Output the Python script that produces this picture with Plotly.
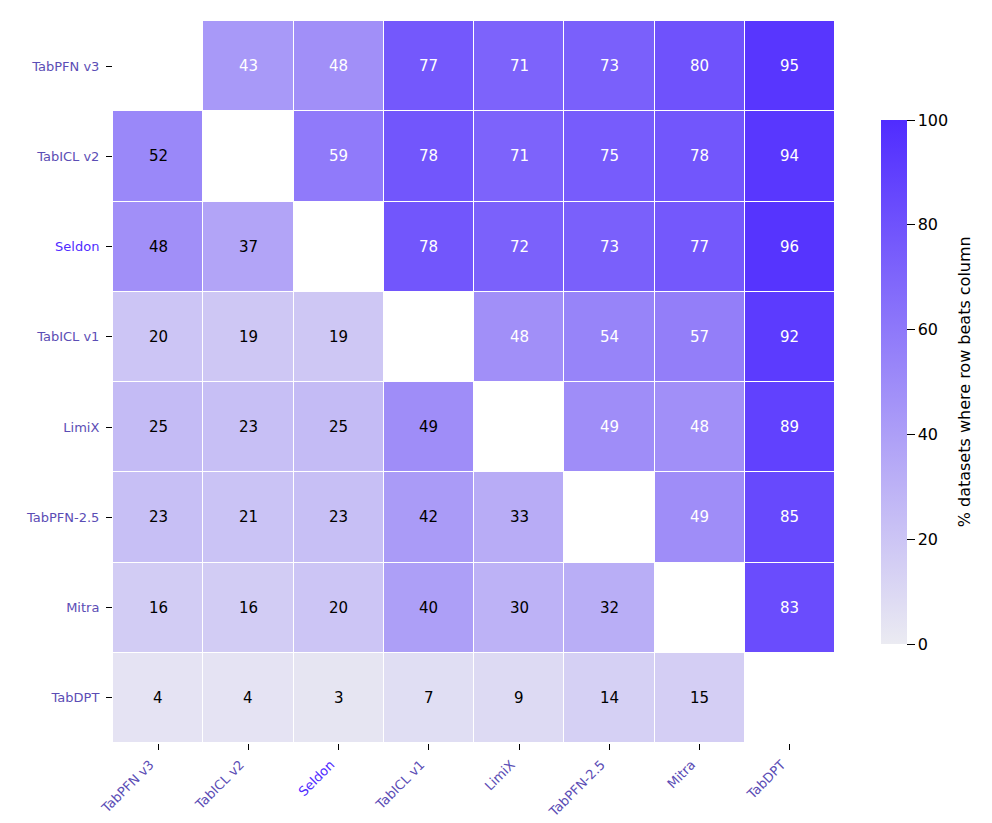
import plotly.graph_objects as go

models = ["TabPFN v3", "TabICL v2", "Seldon", "TabICL v1", "LimiX", "TabPFN-2.5", "Mitra", "TabDPT"]

# % of datasets where the row model beats the column model (diagonal empty)
win_rates = [
    [None, 43, 48, 77, 71, 73, 80, 95],
    [52, None, 59, 78, 71, 75, 78, 94],
    [48, 37, None, 78, 72, 73, 77, 96],
    [20, 19, 19, None, 48, 54, 57, 92],
    [25, 23, 25, 49, None, 49, 48, 89],
    [23, 21, 23, 42, 33, None, 49, 85],
    [16, 16, 20, 40, 30, 32, None, 83],
    [4, 4, 3, 7, 9, 14, 15, None],
]

label_colors = ["#5b4db5", "#5b4db5", "#4f2cff", "#5b4db5", "#5b4db5", "#5b4db5", "#5b4db5", "#5b4db5"]
cbar_ticks = [0, 20, 40, 60, 80, 100]
cbar_title = "% datasets where row beats column"

ticktext = [f"<span style='color:{c}'>{m}</span>" for m, c in zip(models, label_colors)]

fig = go.Figure()
fig.add_trace(go.Heatmap(
    z=win_rates,
    x=models,
    y=models,
    zmin=0,
    zmax=100,
    colorscale=[[0, "#ebebf2"], [1, "#502cff"]],
    xgap=1,
    ygap=1,
    hoverongaps=False,
    colorbar=dict(
        x=1.0499, xanchor="left", y=0.5, yanchor="middle",
        len=0.7535, lenmode="fraction", thickness=26,
        outlinewidth=0,
        tickvals=cbar_ticks,
        ticks="outside", ticklen=8, tickcolor="black",
        tickfont=dict(size=16, color="black"),
    ),
))

# upper triangle gets white labels, lower triangle black
for i, row in enumerate(win_rates):
    for j, v in enumerate(row):
        if v is None:
            continue
        fig.add_annotation(
            x=models[j], y=models[i], text=str(v), showarrow=False,
            font=dict(size=15, color="white" if j > i else "black"),
        )

# colorbar label, placed by hand so it sits further right like the original
fig.add_annotation(
    x=1.195, y=0.5, xref="paper", yref="paper", text=cbar_title,
    textangle=-90, showarrow=False, font=dict(size=16, color="black"),
)

fig.update_xaxes(
    tickvals=models, ticktext=ticktext, tickangle=-45,
    ticks="outside", ticklen=6, tickcolor="black", ticklabelstandoff=2,
    ticklabelshift=-8,
    tickfont=dict(size=13), showgrid=False, zeroline=False,
)
fig.update_yaxes(
    tickvals=models, ticktext=ticktext, autorange="reversed",
    ticks="outside", ticklen=6, tickcolor="black", ticklabelstandoff=4,
    tickfont=dict(size=13), showgrid=False, zeroline=False,
)
fig.update_layout(
    width=992, height=823,
    margin=dict(l=105, r=165, t=13, b=88),
    plot_bgcolor="white", paper_bgcolor="white",
    font=dict(family="DejaVu Sans"),
)

fig.write_html("out.html")
